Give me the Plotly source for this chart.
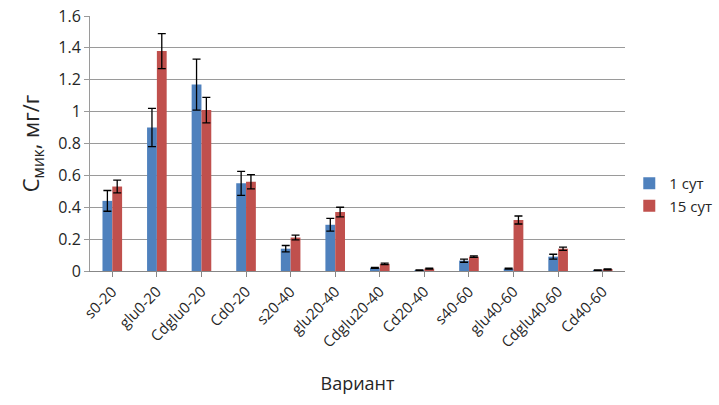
import plotly.graph_objects as go

categories = ["s0-20", "glu0-20", "Cdglu0-20", "Cd0-20", "s20-40", "glu20-40",
              "Cdglu20-40", "Cd20-40", "s40-60", "glu40-60", "Cdglu40-60", "Cd40-60"]
day1 = [0.44, 0.90, 1.17, 0.55, 0.14, 0.29, 0.02, 0.005, 0.065, 0.015, 0.09, 0.005]
day1_err = [0.065, 0.12, 0.16, 0.075, 0.02, 0.04, 0.003, 0.002, 0.01, 0.003, 0.015, 0.002]
day15 = [0.53, 1.38, 1.01, 0.56, 0.21, 0.37, 0.045, 0.015, 0.09, 0.32, 0.14, 0.01]
day15_err = [0.04, 0.11, 0.08, 0.045, 0.015, 0.03, 0.005, 0.003, 0.005, 0.025, 0.01, 0.003]
y_ticks = [0, 0.2, 0.4, 0.6, 0.8, 1, 1.2, 1.4, 1.6]
y_tick_text = ["0", "0.2", "0.4", "0.6", "0.8", "1", "1.2", "1.4", "1.6"]

font_family = "Open Sans, Liberation Sans, sans-serif"
err_style = dict(type="data", thickness=1.3, width=4, color="black")

fig = go.Figure()
fig.add_trace(go.Bar(name="1 сут", x=categories, y=day1,
                     error_y=dict(array=day1_err, **err_style),
                     marker=dict(color="#4F81BD", line=dict(width=0))))
fig.add_trace(go.Bar(name="15 сут", x=categories, y=day15,
                     error_y=dict(array=day15_err, **err_style),
                     marker=dict(color="#C0504D", line=dict(width=0))))

fig.update_layout(
    width=719, height=405,
    margin=dict(l=90, r=94, t=16, b=134, autoexpand=False),
    paper_bgcolor="white", plot_bgcolor="white",
    barmode="group", bargap=0.56, bargroupgap=0,
    font=dict(family=font_family, color="#262626", size=15),
    legend=dict(x=1.008, y=0.30, xanchor="left", yanchor="middle",
                font=dict(size=15), itemwidth=30, tracegroupgap=6,
                bgcolor="rgba(0,0,0,0)"),
    showlegend=True,
)
fig.update_xaxes(
    tickangle=-45, tickfont=dict(size=15),
    showline=True, linecolor="#878787", linewidth=1,
    ticks="outside", ticklen=5, tickcolor="#878787",
    title=dict(text="Вариант", font=dict(size=18), standoff=26),
)
fig.update_yaxes(
    range=[0, 1.6], tickvals=y_ticks, ticktext=y_tick_text,
    tickfont=dict(size=16),
    showgrid=True, gridcolor="#9a9a9a", gridwidth=1,
    showline=True, linecolor="#9a9a9a", linewidth=1,
    ticks="outside", ticklen=5, tickcolor="#9a9a9a",
    zeroline=False,
    title=dict(text="С<sub>мик</sub>, мг/г", font=dict(size=22), standoff=12),
)

fig.write_html("out.html")
